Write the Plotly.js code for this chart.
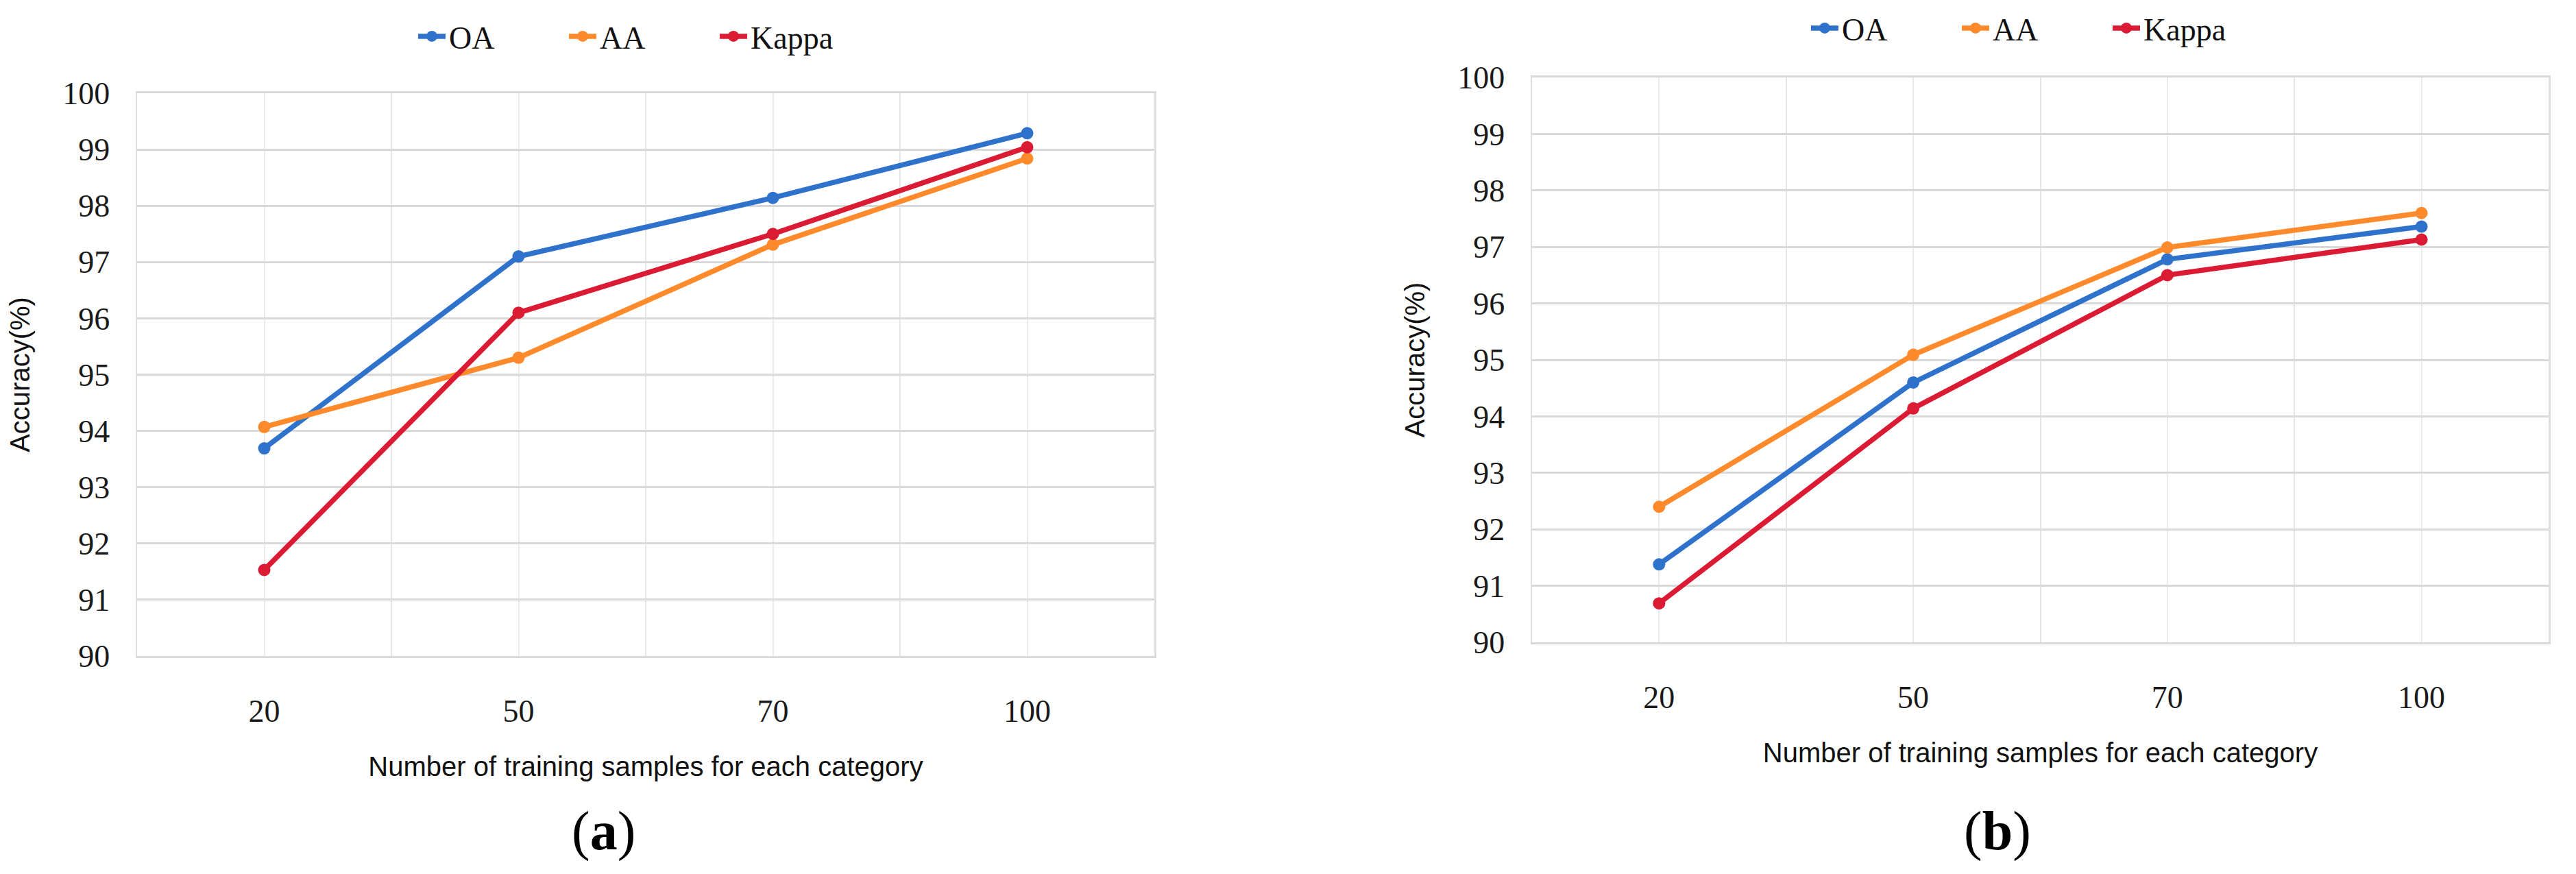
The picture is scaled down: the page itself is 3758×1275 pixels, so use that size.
<!DOCTYPE html>
<html>
<head>
<meta charset="utf-8">
<script src="https://cdn.plot.ly/plotly-3.0.1.min.js"></script>
<style>
  html, body { margin: 0; padding: 0; background: #fff; }
  #plot { width: 3758px; height: 1275px; }
</style>
</head>
<body>
<div id="plot"></div>
<script>
// training samples per category (x categories)
const samples = ['20', '50', '70', '100'];
const seriesNames = ['OA', 'AA', 'Kappa'];
const seriesColors = ['#2F72CC', '#FF8A2B', '#DB1B33'];

// panel (a)
const oaA = [93.69, 97.10, 98.14, 99.29];
const aaA = [94.07, 95.30, 97.31, 98.84];
const kappaA = [91.53, 96.10, 97.50, 99.04];

// panel (b)
const oaB = [91.38, 94.60, 96.78, 97.36];
const aaB = [92.40, 95.09, 96.99, 97.60];
const kappaB = [90.69, 94.14, 96.50, 97.13];

const yTicks = [90, 91, 92, 93, 94, 95, 96, 97, 98, 99, 100];
const panelLabels = ['(<b>a</b>)', '(<b>b</b>)'];
const xTitle = 'Number of training samples for each category';
const yTitle = 'Accuracy(%)';

const W = 3758, H = 1275;
const serif = '"Liberation Serif", "Times New Roman", serif';
const sans = '"Liberation Sans", Arial, sans-serif';
const xIdx = samples.map((_, i) => i);

function makeTraces(values, axisSuffix, legendName) {
  return values.map((vals, k) => ({
    type: 'scatter',
    mode: 'lines+markers',
    name: seriesNames[k],
    x: xIdx,
    y: vals,
    xaxis: 'x' + axisSuffix,
    yaxis: 'y' + axisSuffix,
    legend: legendName,
    line: { color: seriesColors[k], width: 7.5 },
    marker: { color: seriesColors[k], size: 18 },
    hoverinfo: 'skip',
  }));
}

function xAxis(domain, anchor) {
  return {
    domain: domain,
    anchor: anchor,
    range: [-0.5, samples.length - 0.5],
    tickmode: 'array',
    tickvals: xIdx,
    ticktext: samples,
    ticks: '',
    ticklabelstandoff: 38,
    tickfont: { family: serif, size: 46, color: '#1a1a1a' },
    showgrid: true,
    gridcolor: '#EBEBEB',
    gridwidth: 2,
    minor: { dtick: 1, tick0: 0.5, showgrid: true, gridcolor: '#E6E6E6', gridwidth: 2 },
    showline: true,
    mirror: true,
    linecolor: '#D9D9D9',
    linewidth: 3,
    zeroline: false,
    fixedrange: true,
    title: { text: xTitle, standoff: 42, font: { family: sans, size: 40, color: '#111' } },
  };
}

function yAxis(domain, anchor) {
  return {
    domain: domain,
    anchor: anchor,
    range: [90, 100],
    tickmode: 'array',
    tickvals: yTicks,
    ticktext: yTicks.map(String),
    ticks: '',
    ticklabelstandoff: 28,
    tickfont: { family: serif, size: 46, color: '#1a1a1a' },
    showgrid: true,
    gridcolor: '#D9D9D9',
    gridwidth: 3,
    showline: true,
    mirror: true,
    linecolor: '#DEDEDE',
    linewidth: 2.5,
    zeroline: false,
    fixedrange: true,
    title: { text: yTitle, standoff: 36, font: { family: sans, size: 40, color: '#111' } },
  };
}

const data = [
  ...makeTraces([oaA, aaA, kappaA], '', 'legend'),
  ...makeTraces([oaB, aaB, kappaB], '2', 'legend2'),
];

const legendBase = {
  orientation: 'h',
  xanchor: 'left',
  yanchor: 'middle',
  font: { family: serif, size: 46, color: '#111' },
  bgcolor: 'rgba(0,0,0,0)',
  entrywidth: 165,
  entrywidthmode: 'pixels',
  itemwidth: 40,
};

const layout = {
  width: W,
  height: H,
  margin: { l: 0, r: 0, t: 0, b: 0 },
  paper_bgcolor: '#fff',
  plot_bgcolor: '#fff',
  xaxis: xAxis([200 / W, 1684 / W], 'y'),
  yaxis: yAxis([(H - 957) / H, (H - 136) / H], 'x'),
  xaxis2: xAxis([2235 / W, 3718 / W], 'y2'),
  yaxis2: yAxis([(H - 937) / H, (H - 113) / H], 'x2'),
  legend: Object.assign({}, legendBase, { x: 605 / W, y: (H - 53) / H }),
  legend2: Object.assign({}, legendBase, { x: 2637 / W, y: (H - 41) / H }),
  annotations: panelLabels.map((txt, i) => ({
    text: txt,
    xref: 'paper',
    yref: 'paper',
    x: [880, 2914][i] / W,
    y: (H - 1212) / H,
    xanchor: 'center',
    yanchor: 'middle',
    showarrow: false,
    font: { family: serif, size: 80, color: '#000' },
  })),
};

Plotly.newPlot('plot', data, layout, { staticPlot: true, displayModeBar: false });
</script>
</body>
</html>
